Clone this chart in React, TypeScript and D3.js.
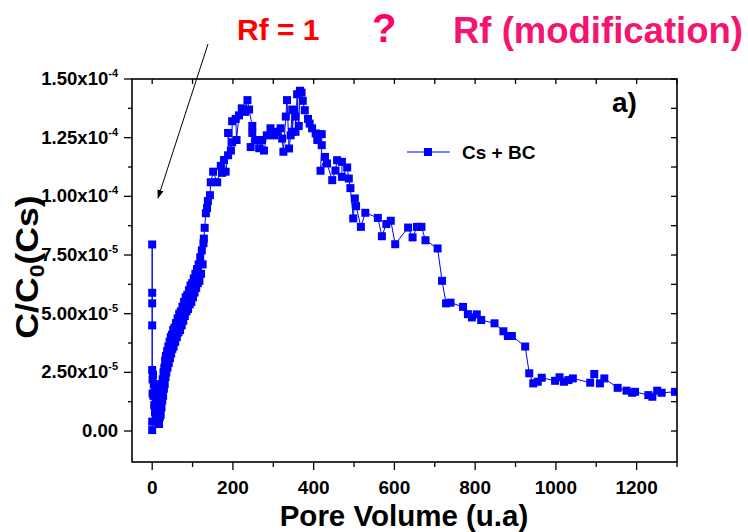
import * as React from "react";
import * as d3 from "d3";

// pore volume (u.a) and C/C0 in units of 1e-5
const poreVolume = [
  0, 0, 0, 0, 0, 0, 0, 1, 1, 2, 3, 4, 5, 6, 7, 8, 9, 10, 11, 12, 13, 14, 15, 16, 17, 18, 19,
  20, 21, 22, 23, 24, 25, 26, 27, 28, 29, 30, 31, 32, 33, 34, 35, 37, 38, 40, 41, 43, 44, 46, 47, 49,
  50, 52, 53, 55, 57, 59, 61, 63, 65, 67, 69, 71, 73, 75, 77, 79, 81, 83, 85, 87, 89, 91, 93, 95,
  97, 99, 101, 103, 105, 107, 109, 111, 113, 115, 117, 119, 121, 123, 125, 127, 128,
  130, 133, 136, 138, 143, 145, 151, 161, 170, 173, 178, 182, 188, 188, 195, 198, 198, 207, 209,
  215, 222, 230, 236, 240, 248, 248, 244, 256, 265, 272, 277, 284, 293, 302, 309, 318, 322, 325,
  331, 334, 339, 343, 347, 347, 351, 355, 355, 359, 363, 366, 370, 373, 378, 386, 390, 396, 405,
  409, 420, 420, 417, 428, 433, 446, 454, 458, 470, 470, 483, 487, 491, 498, 502, 505, 517, 528,
  559, 569, 580, 591, 602, 634, 645, 656, 667, 677, 707, 718, 728, 739, 770, 782, 792, 804, 815,
  848, 870, 881, 891, 924, 934, 944, 955, 965, 998, 1009, 1020, 1031, 1042, 1085, 1095, 1109,
  1120, 1153, 1175, 1189, 1196, 1229, 1239, 1251, 1262, 1295,
];
const ratioE5 = [
  0.04, 0.4, 7.95, 5.89, 5.44, 4.5, 2.6, 2.2, 1.6, 2.4, 1.5, 2.0, 1.1, 1.9, 0.8, 1.6, 1.2, 0.6,
  1.4, 0.9, 0.4, 1.1, 0.5, 0.8, 0.3, 0.9, 0.6,
  1.3, 0.7, 1.7, 1.0, 2.0, 1.3, 2.2, 1.5, 2.5, 1.8, 2.7, 2.0, 3.0, 2.3, 3.2, 2.5, 3.4, 2.7, 3.6,
  2.9, 3.8, 3.1, 4.0, 3.3, 4.1, 3.5, 4.3, 3.6, 4.4, 3.8, 4.6, 4.0, 4.8, 4.2, 5.0, 4.3, 5.1, 4.5,
  5.3, 4.7, 5.5, 4.9, 5.7, 5.1, 5.8, 5.2, 6.0, 5.4, 6.2, 5.5, 6.3, 5.7, 6.5, 5.9, 6.7, 6.1, 6.9,
  6.3, 7.1, 6.4, 7.4, 6.7, 7.7, 7.1, 8.0, 8.2,
  8.66, 9.28, 9.5, 9.8, 10.05, 10.6, 11.05, 10.6, 11.3, 11.0, 11.55, 11.05, 11.75, 12.7, 11.95,
  12.3, 13.2, 13.3, 12.4, 13.45, 13.75, 13.6, 14.1, 13.7, 13.0, 12.7, 12.1, 12.4, 12.05, 12.4,
  11.95, 12.6, 12.9, 12.6, 12.75, 12.9, 12.46, 11.9, 13.4, 14.1, 12.04, 12.6, 13.7, 12.75, 13.67,
  13.4, 12.75, 14.35, 13.0, 14.5, 14.42, 14.07, 13.67, 13.3, 13.1, 12.9, 12.68, 12.4, 12.65,
  12.18, 11.09, 11.68, 11.4, 10.69, 11.1, 11.54, 11.47, 10.83, 11.23, 10.76, 10.35, 9.06, 9.91,
  9.58, 8.7, 9.3, 9.08, 8.3, 8.82, 8.96, 7.96, 8.67, 8.25, 8.7, 8.7, 8.13, 7.78, 6.4, 5.44, 5.47,
  5.29, 4.98, 4.84, 4.97, 4.73, 4.59, 4.25, 4.05, 4.05, 3.6, 2.46, 2.03, 2.1, 2.27, 2.14, 2.29,
  2.1, 2.17, 2.24, 2.06, 2.43, 2.03, 2.24, 1.84, 1.72, 1.63, 1.67, 1.53, 1.46, 1.72, 1.63, 1.67,
];

const xTicks = [0, 200, 400, 600, 800, 1000, 1200];
const xMinorTicks = [100, 300, 500, 700, 900, 1100, 1300];
const yTickValues = [0, 2.5e-5, 5e-5, 7.5e-5, 1e-4, 1.25e-4, 1.5e-4];
const yTickMantissa = ["0.00", "2.50", "5.00", "7.50", "1.00", "1.25", "1.50"];
const yTickExponent = ["", "-5", "-5", "-5", "-4", "-4", "-4"];
const yMinorTicks = [1.25e-5, 3.75e-5, 6.25e-5, 8.75e-5, 1.125e-4, 1.375e-4];
const seriesName = "Cs + BC";

const FONT = "'Liberation Sans', Arial, sans-serif";
const BLUE = "#0000ff";

export default function App() {
  const width = 748;
  const height = 532;
  const plot = { left: 132, right: 677, top: 79, bottom: 462 };

  const x = d3.scaleLinear().domain([-50, 1300]).range([plot.left, plot.right]);
  const y = d3.scaleLinear().domain([-1.32e-5, 1.5e-4]).range([plot.bottom, plot.top]);

  const data = poreVolume.map((v, i) => ({ v, c: ratioE5[i] * 1e-5 }));
  const line = d3
    .line<{ v: number; c: number }>()
    .x((d) => x(d.v))
    .y((d) => y(d.c));

  const ms = 8;

  return (
    <svg
      width={width}
      height={height}
      style={{ position: "absolute", left: 0, top: 0, background: "#fff" }}
      fontFamily={FONT}
      fontWeight="bold"
    >
      <defs>
        <clipPath id="plotClip">
          <rect x={plot.left} y={plot.top} width={plot.right - plot.left} height={plot.bottom - plot.top} />
        </clipPath>
        <marker id="arrowHead" viewBox="0 0 10 10" refX="9" refY="5" markerWidth="9" markerHeight="9" orient="auto">
          <path d="M0,1.5 L10,5 L0,8.5 Z" fill="#000" />
        </marker>
      </defs>

      {/* series */}
      <g clipPath="url(#plotClip)">
        <path d={line(data) ?? ""} fill="none" stroke={BLUE} strokeWidth={1} />
        {data.map((d, i) => (
          <rect key={i} x={x(d.v) - ms / 2} y={y(d.c) - ms / 2} width={ms} height={ms} fill={BLUE} />
        ))}
      </g>

      {/* frame */}
      <rect
        x={plot.left}
        y={plot.top}
        width={plot.right - plot.left}
        height={plot.bottom - plot.top}
        fill="none"
        stroke="#000"
        strokeWidth={1.6}
      />

      {/* bottom ticks outward, top ticks inward */}
      {xTicks.map((t) => (
        <g key={"xt" + t}>
          <line x1={x(t)} x2={x(t)} y1={plot.bottom} y2={plot.bottom + 8} stroke="#000" strokeWidth={1.3} />
          <line x1={x(t)} x2={x(t)} y1={plot.top} y2={plot.top + 5} stroke="#000" strokeWidth={1.3} />
        </g>
      ))}
      {xMinorTicks.map((t) => (
        <g key={"xm" + t}>
          <line x1={x(t)} x2={x(t)} y1={plot.bottom} y2={plot.bottom + 5} stroke="#000" strokeWidth={1.3} />
          <line x1={x(t)} x2={x(t)} y1={plot.top} y2={plot.top + 5} stroke="#000" strokeWidth={1.3} />
        </g>
      ))}
      {xTicks.map((t) => (
        <text key={"xl" + t} x={x(t)} y={494} textAnchor="middle" fontSize={19}>
          {t}
        </text>
      ))}

      {/* left ticks outward, right ticks inward */}
      {yTickValues.map((t, i) => (
        <g key={"yt" + i}>
          <line x1={plot.left - 8} x2={plot.left} y1={y(t)} y2={y(t)} stroke="#000" strokeWidth={1.3} />
          <line x1={plot.right - 6} x2={plot.right} y1={y(t)} y2={y(t)} stroke="#000" strokeWidth={1.3} />
        </g>
      ))}
      {yMinorTicks.map((t, i) => (
        <g key={"ym" + i}>
          <line x1={plot.left - 4} x2={plot.left} y1={y(t)} y2={y(t)} stroke="#000" strokeWidth={1.3} />
          <line x1={plot.right - 6} x2={plot.right} y1={y(t)} y2={y(t)} stroke="#000" strokeWidth={1.3} />
        </g>
      ))}
      {yTickValues.map((t, i) => (
        <text key={"yl" + i} x={118} y={y(t) + 6} textAnchor="end" fontSize={18.5}>
          {yTickExponent[i] ? (
            <>
              {yTickMantissa[i]}x10
              <tspan dy={-8} fontSize={11}>
                {yTickExponent[i]}
              </tspan>
            </>
          ) : (
            yTickMantissa[i]
          )}
        </text>
      ))}

      {/* axis titles */}
      <text x={404} y={526} textAnchor="middle" fontSize={29.5}>
        Pore Volume (u.a)
      </text>
      <text transform="translate(38,267) rotate(-90) scale(1.15,1)" textAnchor="middle" fontSize={31}>
        C/C
        <tspan dy={6} fontSize={20}>
          0
        </tspan>
        <tspan dy={-6}>(Cs)</tspan>
      </text>

      {/* legend */}
      <line x1={407} x2={450} y1={152} y2={152} stroke={BLUE} strokeWidth={1} />
      <rect x={428 - ms / 2} y={152 - ms / 2} width={ms} height={ms} fill={BLUE} />
      <text x={462} y={159} fontSize={19}>
        {seriesName}
      </text>

      {/* panel label */}
      <text x={612} y={112} fontSize={28}>
        a)
      </text>

      {/* annotations */}
      <text x={237} y={40} fontSize={30} fill="#ff0000">
        Rf = 1
      </text>
      <text x={372} y={42} fontSize={40} fill="#ff0066">
        ?
      </text>
      <text x={453} y={43} fontSize={36.5} fill="#f5146f">
        Rf (modification)
      </text>
      <line x1={208} y1={44} x2={158} y2={198} stroke="#000" strokeWidth={1} markerEnd="url(#arrowHead)" />
    </svg>
  );
}
